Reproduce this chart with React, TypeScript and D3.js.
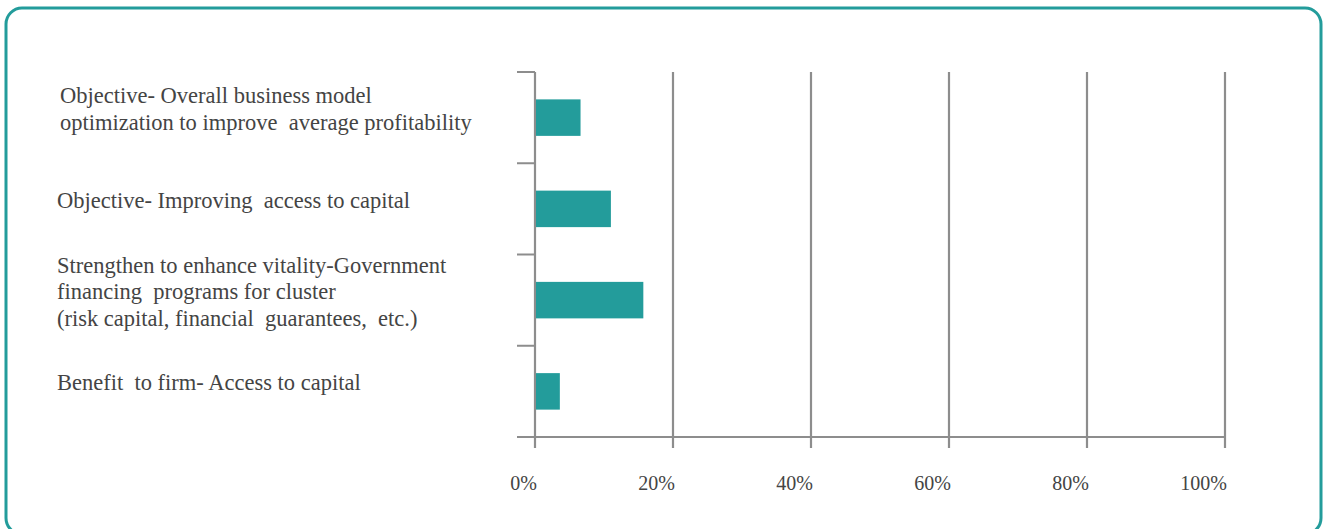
import React from "react";
import * as d3 from "d3";

const categories: string[][] = [
  ["Objective- Overall business model", "optimization to improve  average profitability"],
  ["Objective- Improving  access to capital"],
  ["Strengthen to enhance vitality-Government", "financing  programs for cluster", "(risk capital, financial  guarantees,  etc.)"],
  ["Benefit  to firm- Access to capital"],
];
const values: number[] = [6.6, 11, 15.7, 3.6];
const ticks: number[] = [0, 20, 40, 60, 80, 100];

const W = 1324;
const H = 529;
const left = 535;
const right = 1225;
const top = 72;
const bottom = 437;
const axisColor = "#8d8d8d";
const barColor = "#239c9b";
const textColor = "#444";
const font = "'Liberation Serif', 'Times New Roman', serif";

export default function App() {
  const x = d3.scaleLinear().domain([0, 100]).range([left, right]);
  const y = d3
    .scaleBand<number>()
    .domain(categories.map((_, i) => i))
    .range([top, bottom])
    .paddingInner(0.6)
    .paddingOuter(0.3);
  const bandStep = (bottom - top) / categories.length;
  const lineH = 26.5;

  return (
    <svg
      width={W}
      height={H}
      style={{ position: "absolute", left: 0, top: 0, background: "#fff" }}
    >
      <rect x={6} y={8} width={1315} height={526} rx={16} ry={16} fill="#fff" stroke={barColor} strokeWidth={3} />
      {ticks.map((t) => (
        <line key={"g" + t} x1={x(t)} x2={x(t)} y1={top} y2={bottom + 11} stroke={axisColor} strokeWidth={2.2} />
      ))}
      {d3.range(categories.length + 1).map((i) => (
        <line key={"yt" + i} x1={left - 18} x2={left} y1={top + i * bandStep} y2={top + i * bandStep} stroke={axisColor} strokeWidth={2} />
      ))}
      <line x1={left - 18} x2={right} y1={bottom} y2={bottom} stroke={axisColor} strokeWidth={2} />
      {values.map((v, i) => (
        <rect key={"b" + i} x={x(0) + 1} y={y(i)!} width={x(v) - x(0) - 1} height={y.bandwidth()} fill={barColor} />
      ))}
      {ticks.map((t) => (
        <text key={"l" + t} x={x(t) + 2} y={490} textAnchor="end" fontFamily={font} fontSize={20} fill={textColor}>
          {t}%
        </text>
      ))}
      {categories.map((lines, i) => {
        const mid = (y(i) ?? 0) + y.bandwidth() / 2 - 1;
        const first = mid - ((lines.length - 1) * lineH) / 2;
        return (
          <text key={"c" + i} fontFamily={font} fontSize={22.5} fill={textColor} style={{ whiteSpace: "pre" }}>
            {lines.map((ln, j) => (
              <tspan key={j} x={i === 0 ? 60 : 57} y={first + j * lineH}>
                {ln}
              </tspan>
            ))}
          </text>
        );
      })}
    </svg>
  );
}
